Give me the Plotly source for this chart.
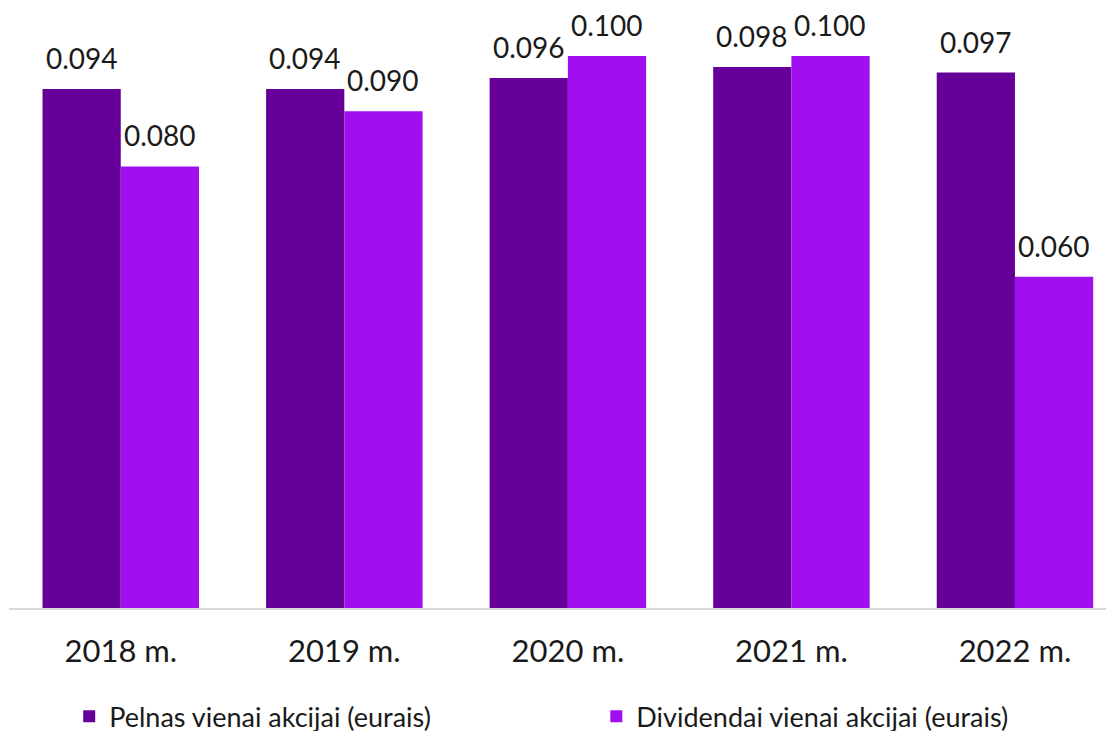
import plotly.graph_objects as go

categories = ["2018 m.", "2019 m.", "2020 m.", "2021 m.", "2022 m."]
pelnas = [0.094, 0.094, 0.096, 0.098, 0.097]
dividendai = [0.080, 0.090, 0.100, 0.100, 0.060]
series_names = ["Pelnas vienai akcijai (eurais)", "Dividendai vienai akcijai (eurais)"]
colors = ["#660099", "#A10EF0"]

FONT = "Lato"

fig = go.Figure()
legends = ["legend", "legend2"]
for name, vals, col, lg in zip(series_names, [pelnas, dividendai], colors, legends):
    fig.add_trace(go.Bar(
        x=categories, y=vals, name=name, legend=lg,
        marker=dict(color=col, line=dict(width=0)),
        cliponaxis=False,
    ))

# value labels
for vals, shift in zip([pelnas, dividendai], [-39, 39]):
    for c, v in zip(categories, vals):
        fig.add_annotation(
            x=c, y=v, text=f"{v:.3f}", showarrow=False,
            xshift=shift, yshift=12, yanchor="bottom", xanchor="center",
            font=dict(family=FONT, size=28, color="#1a1a1a"),
        )

legend_common = dict(
    orientation="h", yanchor="middle", xanchor="left", y=-0.197,
    font=dict(family=FONT, size=27, color="#1a1a1a"),
    bgcolor="rgba(0,0,0,0)",
)

fig.update_layout(
    width=1114, height=731,
    margin=dict(l=1, r=8, t=48, b=131, autoexpand=False),
    paper_bgcolor="white", plot_bgcolor="white",
    barmode="group", bargap=0.3, bargroupgap=0,
    font=dict(family=FONT, color="#1a1a1a"),
    xaxis=dict(
        range=[-0.5, 4.443], automargin=False,
        showline=True, linecolor="#d9d9d9", linewidth=2,
        ticks="", tickfont=dict(family=FONT, size=31, color="#1a1a1a"),
        ticklabelstandoff=15,
        showgrid=False,
    ),
    yaxis=dict(range=[0, 0.1], visible=False, showgrid=False, automargin=False),
    showlegend=True,
    legend=dict(x=0.0545, **legend_common),
    legend2=dict(x=0.5315, **legend_common),
)

fig.write_html("out.html")
